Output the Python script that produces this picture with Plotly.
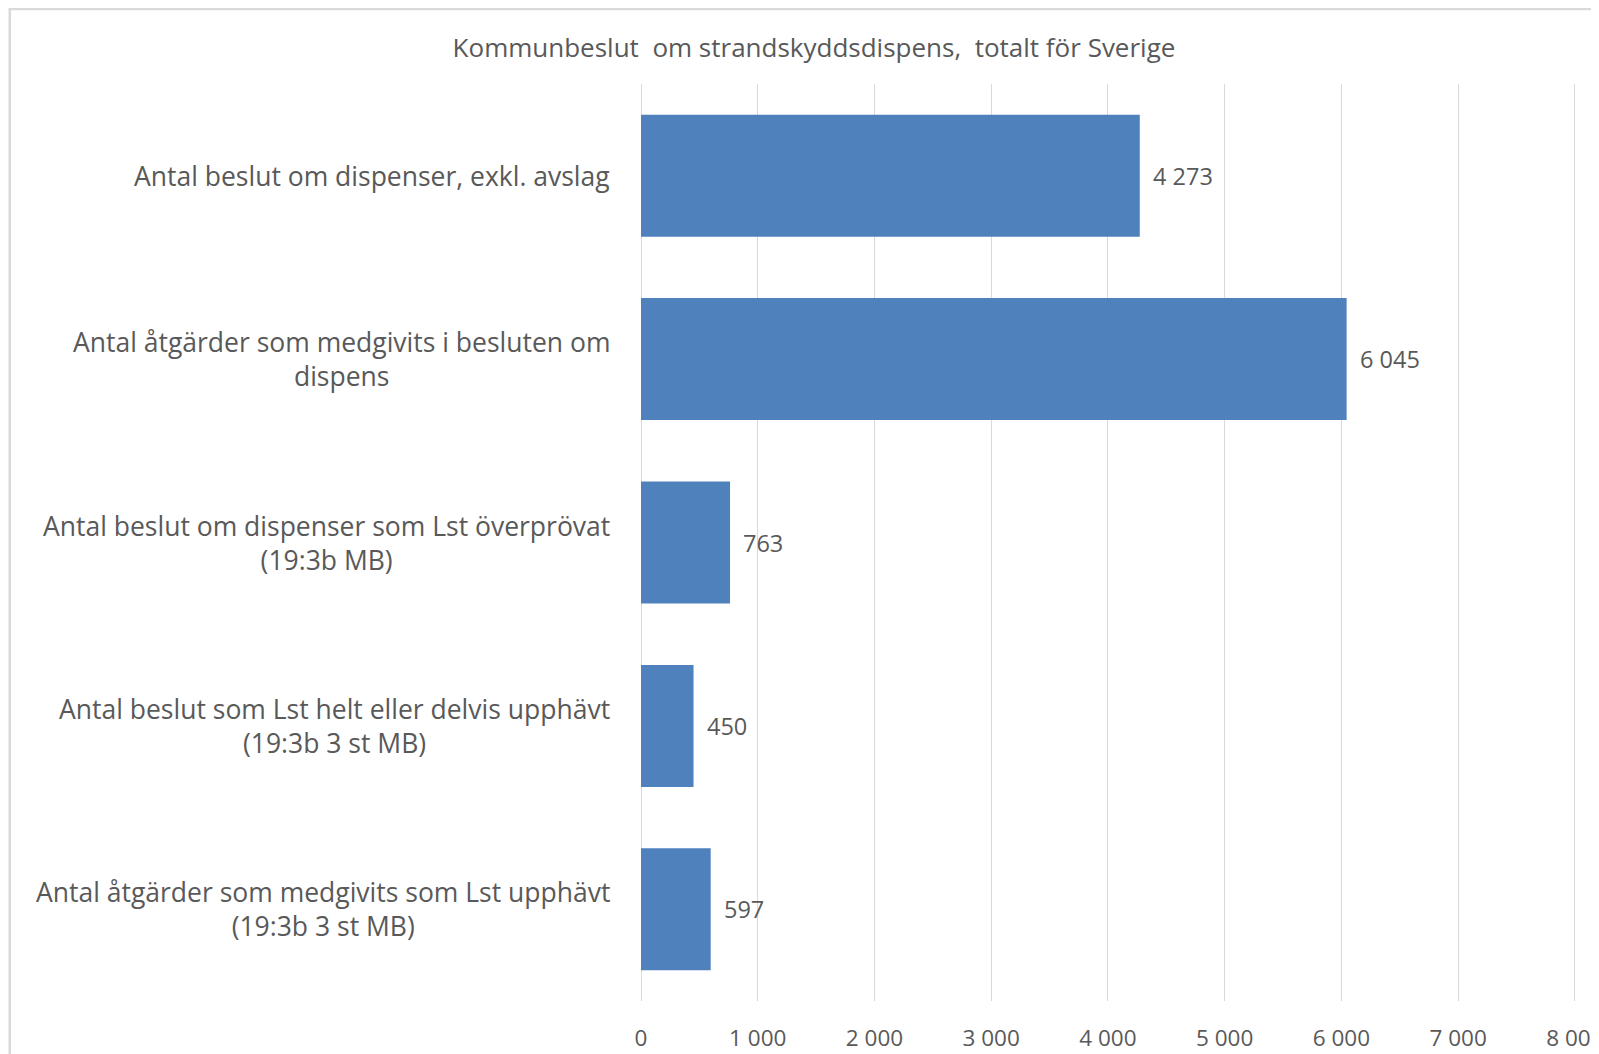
import plotly.graph_objects as go

categories = [
    "Antal beslut om dispenser, exkl. avslag",
    "Antal åtgärder som medgivits i besluten om<br>dispens",
    "Antal beslut om dispenser som Lst överprövat<br>(19:3b MB)",
    "Antal beslut som Lst helt eller delvis upphävt<br>(19:3b 3 st MB)",
    "Antal åtgärder som medgivits som Lst upphävt<br>(19:3b 3 st MB)",
]
values = [4273, 6045, 763, 450, 597]
x_ticks = [0, 1000, 2000, 3000, 4000, 5000, 6000, 7000, 8000]
title_text = "Kommunbeslut  om strandskyddsdispens,  totalt för Sverige"

TEXT = "#595959"
GRID = "#d9d9d9"
BAR = "#4f81bd"
FONT = "Open Sans"

ids = [f"c{i}" for i in range(len(categories))]

fig = go.Figure(go.Bar(
    x=values, y=ids, orientation="h",
    marker=dict(color=BAR, line=dict(width=0)),
    width=0.665,
    hoverinfo="skip",
))

annotations = []
for cid, v in zip(ids, values):
    annotations.append(dict(
        x=v, y=cid, xref="x", yref="y", xanchor="left", yanchor="middle",
        xshift=11, text=f"{v:,}".replace(",", "\u00a0"), showarrow=False,
        font=dict(family=FONT, size=23.5, color=TEXT),
    ))
for cid, c in zip(ids, categories):
    annotations.append(dict(
        x=0, y=cid, xref="paper", yref="y", xanchor="right", yanchor="middle",
        xshift=-29, align="center", text=c, showarrow=False,
        font=dict(family=FONT, size=26.5, color=TEXT),
    ))

# page body has an 8px margin; lay out in page coordinates minus 8
W, H = 1591, 1046
X_MAX = 8010  # a hair past 8000 so the last gridline is drawn
L, T, B = 633, 76, 53
px_per_unit = 933.5 / 8000
pw = X_MAX * px_per_unit
R = W - L - pw
ph = H - T - B

fig.update_layout(
    width=W, height=H,
    margin=dict(l=L, r=R, t=T, b=B, pad=0, autoexpand=False),
    paper_bgcolor="white", plot_bgcolor="white",
    separators=", ",
    showlegend=False,
    bargap=0.335,
    title=dict(text=title_text, x=806 / W, xanchor="center", xref="container",
               y=1 - 40 / H, yanchor="middle", yref="container",
               font=dict(family=FONT, size=26, color=TEXT)),
    xaxis=dict(range=[0, X_MAX], tickvals=x_ticks, tickformat=",d", separatethousands=True,
               showgrid=True, gridcolor=GRID, gridwidth=1.3,
               zeroline=True, zerolinecolor=GRID, zerolinewidth=1.3,
               showline=False, ticks="", ticklabelstandoff=21,
               ticklabeloverflow="allow", automargin=False,
               tickfont=dict(family=FONT, size=22.5, color=TEXT), fixedrange=True),
    yaxis=dict(categoryorder="array", categoryarray=ids, autorange="reversed",
               showticklabels=False, showgrid=False, zeroline=False, showline=False,
               ticks="", fixedrange=True, automargin=False),
    annotations=annotations,
    shapes=[dict(type="rect", xref="paper", yref="paper",
                 x0=(2 - L) / pw, x1=(W + 20 - L) / pw,
                 y0=-(B + 20) / ph, y1=1 + (T - 1) / ph,
                 line=dict(color=GRID, width=2.5), fillcolor="rgba(0,0,0,0)", layer="below")],
)

fig.write_html("out.html", config={"displayModeBar": False})
